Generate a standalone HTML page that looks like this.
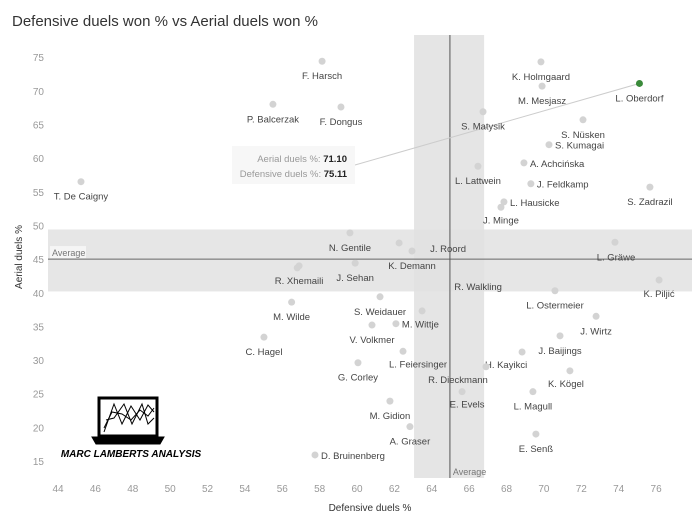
<!DOCTYPE html>
<html><head><meta charset="utf-8"><style>
body{margin:0;background:#fff;}
svg text{font-family:"Liberation Sans",sans-serif;}
</style></head><body>
<svg id="chart" width="700" height="525" xmlns="http://www.w3.org/2000/svg">
<text x="12" y="26" font-size="15" fill="#333">Defensive duels won % vs Aerial duels won %</text>
<g id="bands"></g>
<g id="axes"></g>
<g id="pts"></g>
<g stroke="#000" fill="none">
 <rect x="99" y="398" width="58" height="38" stroke-width="3"/>
 <polygon points="92,437 164,437 160,444 96,444" fill="#000"/>
 <polyline points="104,432 114,404 122,424 131,406 140,420 148,405 154,412" stroke-width="1"/>
 <polyline points="104,428 112,412 122,414 131,420 140,410 148,416 154,408" stroke-width="1"/>
 <polyline points="106,420 114,418 124,404 132,424 142,404 148,424 154,418" stroke-width="1"/>
 <text x="131" y="457" font-size="10" font-weight="bold" font-style="italic" fill="#000" stroke="none" text-anchor="middle">MARC LAMBERTS ANALYSIS</text>
</g>
</svg>
<script>
const names=["F. Harsch","K. Holmgaard","L. Oberdorf","M. Mesjasz","P. Balcerzak","F. Dongus","S. Matysik","S. Nüsken","S. Kumagai","A. Achcińska","L. Lattwein","T. De Caigny","J. Feldkamp","S. Zadrazil","L. Hausicke","J. Minge","N. Gentile","J. Roord","K. Demann","L. Gräwe","R. Xhemaili","","J. Sehan","K. Piljić","L. Ostermeier","J. Wirtz","S. Weidauer","M. Wilde","R. Walkling","M. Wittje","V. Volkmer","C. Hagel","J. Baijings","L. Feiersinger","H. Kayikci","G. Corley","R. Dieckmann","K. Kögel","E. Evels","L. Magull","M. Gidion","A. Graser","E. Senß","D. Bruinenberg"];
const defensive=[58.13,69.84,75.11,69.9,55.5,59.14,66.74,72.09,70.27,68.93,66.47,45.23,69.3,75.67,67.86,67.7,59.62,62.25,62.94,73.8,56.9,56.8,59.9,76.16,70.59,72.79,61.23,56.5,63.48,62.08,60.8,55.02,70.86,62.46,68.83,60.05,66.9,71.39,65.62,69.41,61.76,62.83,69.57,57.75];
const aerial=[74.4,74.3,71.1,70.7,68.0,67.6,66.9,65.7,62.0,59.3,58.8,56.5,56.2,55.7,53.5,52.7,48.9,47.4,46.2,47.5,44.0,43.7,44.4,41.9,40.3,36.5,39.4,38.6,37.3,35.4,35.2,33.4,33.6,31.3,31.2,29.6,29.0,28.4,25.3,25.3,23.9,20.1,19.0,15.9];
const xTicks=[44,46,48,50,52,54,56,58,60,62,64,66,68,70,72,74,76];
const yTicks=[15,20,25,30,35,40,45,50,55,60,65,70,75];
const avgX=64.97, avgY=45.0, bandX=[63.05,66.8], bandY=[40.2,49.4];
// label layout offsets [dx,dy,anchor]
const lay={"J. Roord":[49,9,"m"],"S. Kumagai":[6,4,"s"],"A. Achcińska":[6,4,"s"],"J. Feldkamp":[6,4,"s"],"L. Hausicke":[6,4,"s"],"M. Wittje":[6,4,"s"],"D. Bruinenberg":[6,4,"s"],"R. Walkling":[56,-21,"m"],"L. Feiersinger":[15,16,"m"],"H. Kayikci":[-16,16,"m"],"R. Dieckmann":[-28,16,"m"],"K. Kögel":[-4,16,"m"],"E. Evels":[5,16,"m"],"L. Gräwe":[1,18,"m"],"K. Piljić":[0,17,"m"],"J. Minge":[0,16,"m"]};
const sx=v=>58+(v-44)*18.69, sy=v=>461-(v-15)*6.73;
const NS="http://www.w3.org/2000/svg";
function el(tag,attrs,parent,txt){const e=document.createElementNS(NS,tag);for(const k in attrs)e.setAttribute(k,attrs[k]);if(txt!==undefined)e.textContent=txt;parent.appendChild(e);return e;}
const bands=document.getElementById('bands'),axes=document.getElementById('axes'),pts=document.getElementById('pts');
const L=48,R=692,T=35,B=478;
let b1=el('rect',{x:L,y:sy(bandY[1]),width:R-L,height:sy(bandY[0])-sy(bandY[1]),fill:'#e6e6e6'},bands);


let b2=el('rect',{x:sx(bandX[0]),y:T,width:sx(bandX[1])-sx(bandX[0]),height:B-T,fill:'#e0e0e0','fill-opacity':0.85},bands);


let l1=el('line',{x1:L,x2:R,y1:sy(avgY),y2:sy(avgY),stroke:'#666','stroke-width':1},bands);


let l2=el('line',{x1:sx(avgX),x2:sx(avgX),y1:T,y2:B,stroke:'#555','stroke-width':1},bands);


el('rect',{x:50,y:sy(avgY)-13,width:36,height:12,fill:'#fff','fill-opacity':0.6},bands);
let a1=el('text',{x:52,y:sy(avgY)-3,'font-size':9,fill:'#777'},bands,'Average');


let a2=el('text',{x:sx(avgX)+3,y:B-3,'font-size':9,fill:'#777'},bands,'Average');


xTicks.forEach(v=>{let t=el('text',{x:sx(v),y:492,'font-size':10,fill:'#999','text-anchor':'middle'},axes,String(v));

});
yTicks.forEach(v=>{let t=el('text',{x:44,y:sy(v)+4,'font-size':10,fill:'#999','text-anchor':'end'},axes,String(v));

});
let xt=el('text',{x:370,y:511,'font-size':10,fill:'#333','text-anchor':'middle'},axes,'Defensive duels %');


let yt=el('text',{x:0,y:0,'font-size':10,fill:'#333','text-anchor':'middle',transform:'translate(22,257) rotate(-90)'},axes,'Aerial duels %');


const oi=2;
let tl=el('line',{x1:355,y1:165,x2:sx(defensive[oi]),y2:sy(aerial[oi]),stroke:'#ccc','stroke-width':1},pts);


let tb=el('rect',{x:232,y:146,width:123,height:38,fill:'#f7f7f7'},pts);


let tt1=el('text',{x:347,y:162,'font-size':9.5,fill:'#999','text-anchor':'end'},pts);
tt1.innerHTML='Aerial duels %: <tspan fill="#222" font-weight="bold">'+aerial[oi].toFixed(2)+'</tspan>';


let tt2=el('text',{x:347,y:177,'font-size':9.5,fill:'#999','text-anchor':'end'},pts);
tt2.innerHTML='Defensive duels %: <tspan fill="#222" font-weight="bold">'+defensive[oi].toFixed(2)+'</tspan>';


const n=Math.min(defensive.length,aerial.length);
for(let i=0;i<n;i++){
 const cx=sx(defensive[i]),cy=sy(aerial[i]);
 const c=el('circle',{cx:cx,cy:cy,r:3.5,fill:i===oi?'#3a8a3a':'#d3d3d3'},pts);
 
 
 const nm=names[i]; if(!nm) continue;
 const ly=lay[nm]||[0,18,"m"];
 const t=el('text',{x:cx+ly[0],y:cy+ly[1],'font-size':9.5,fill:'#444','text-anchor':ly[2]==="m"?'middle':'start'},pts,nm);
 
 
}
</script>
</body></html>
